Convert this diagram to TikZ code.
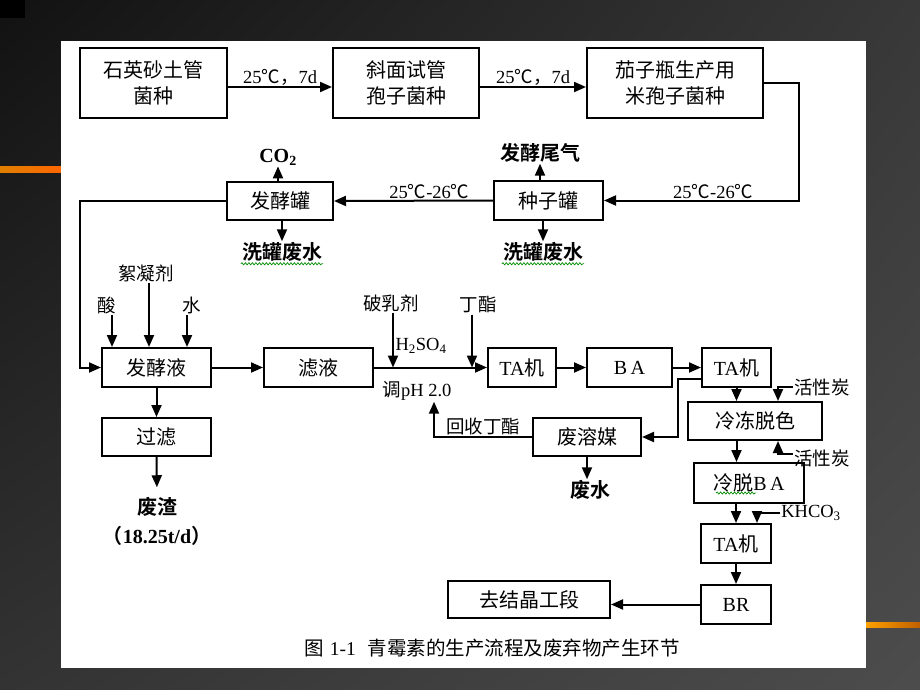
\documentclass[tikz,border=0pt]{standalone}
\usepackage{fontspec}
\setmainfont{Liberation Serif}
\newfontfamily\cjk{Noto Sans CJK SC}[BoldFont={Noto Sans CJK SC Bold}]
\usetikzlibrary{arrows.meta,positioning,decorations.pathmorphing,shadings}

\begin{document}
\begin{tikzpicture}[x=1pt,y=-1pt,
      box_node/.style={
         draw=black,
         line width=2pt,
         rectangle,
         inner sep=0pt,
         align=center,
         font=\cjk\fontsize{20}{26}\selectfont},
      text_node/.style={
         inner sep=1pt,
         font=\cjk\fontsize{18.5}{20}\selectfont},
      waste_node/.style={
         inner sep=1pt,
         font=\cjk\bfseries\fontsize{20}{24}\selectfont},
      arrow_black/.style={
         line width=2pt,
         -{Triangle[length=12pt,width=10pt]}},
      squiggle/.style={
         draw=green!55!black,
         line width=0.7pt,
         decorate,
         decoration={snake, amplitude=1.1pt, segment length=3.5pt}},
]
      % slide background
      \useasboundingbox (0,0) rectangle (920,690);
      \shade[upper left=black!93, upper right=black!78, lower left=black!80, lower right=black!70]
         (0,0) rectangle (920,690);
      \fill[black] (0,0) rectangle (25,18);
      \shade[left color=orange!75!olive, middle color=olive!75!yellow, right color=orange!80!red]
         (0,166) rectangle (61,172);
      \shade[left color=orange!75!yellow, middle color=red!60!orange, right color=orange!75!black]
         (866,622) rectangle (920,627);
      \fill[white] (61,41) rectangle (866,668);

      % spore stage
      \node[box_node, minimum width=147pt, minimum height=70pt] (sysg) at (153.5,83) {石英砂土管\\菌种};
      \node[box_node, minimum width=146pt, minimum height=70pt] (xmsg) at (406,83) {斜面试管\\孢子菌种};
      \node[box_node, minimum width=176pt, minimum height=70pt] (qzp) at (675,83) {茄子瓶生产用\\米孢子菌种};

      % tanks
      \node[box_node, minimum width=109pt, minimum height=39pt] (zzg) at (548.5,200.5) {种子罐};
      \node[box_node, minimum width=106pt, minimum height=38pt] (fjg) at (280,201) {发酵罐};

      \node[waste_node] (fjwq) at (540,153) {发酵尾气};
      \node[waste_node] (xgfs2) at (543,252) {洗罐废水};
      \node[waste_node] (co2) at (278,157) {\rmfamily CO\textsubscript{2}};
      \node[waste_node] (xgfs1) at (282,252) {洗罐废水};

      % broth and extraction
      \node[box_node, minimum width=109pt, minimum height=39pt] (fjy) at (156.5,367.5) {发酵液};
      \node[box_node, minimum width=109pt, minimum height=39pt] (ly) at (318.5,367.5) {滤液};
      \node[box_node, minimum width=109pt, minimum height=38pt] (gl) at (156.5,437) {过滤};
      \node[box_node, minimum width=68pt, minimum height=39pt] (ta1) at (522,367.5) {\rmfamily TA\cjk 机};
      \node[box_node, minimum width=85pt, minimum height=39pt] (ba) at (629.5,367.5) {\rmfamily B\,A};
      \node[box_node, minimum width=69pt, minimum height=39pt] (ta2) at (736.5,367.5) {\rmfamily TA\cjk 机};
      \node[box_node, minimum width=108pt, minimum height=38pt] (frm) at (587,437) {废溶媒};
      \node[box_node, minimum width=134pt, minimum height=38pt] (ldts) at (755,421) {冷冻脱色};
      \node[box_node, minimum width=110pt, minimum height=40pt] (ltba) at (749,483) {冷脱\rmfamily B\,A};
      \node[box_node, minimum width=70pt, minimum height=39pt] (ta3) at (736,543.5) {\rmfamily TA\cjk 机};
      \node[box_node, minimum width=70pt, minimum height=39pt] (br) at (736,604.5) {\rmfamily BR};
      \node[box_node, minimum width=162pt, minimum height=37pt] (jjgd) at (529,599.5) {去结晶工段};

      % side inputs and outputs
      \node[text_node] (xnj) at (146,273) {絮凝剂};
      \node[text_node] (suan) at (107,305) {酸};
      \node[text_node] (shui) at (192,305) {水};
      \node[text_node] (prj) at (391,303) {破乳剂};
      \node[text_node] (dz) at (478,305) {丁酯};
      \node[text_node] (h2so4) at (421,346) {\rmfamily H\textsubscript{2}SO\textsubscript{4}};
      \node[text_node] (tph) at (417,391) {调\rmfamily pH 2.0};
      \node[text_node] (hxt1) at (822,387) {活性炭};
      \node[text_node] (hxt2) at (822,458) {活性炭};
      \node[text_node] (khco3) at (811,513) {\rmfamily KHCO\textsubscript{3}};
      \node[waste_node] (fz) at (157,507) {废渣};
      \node[waste_node] (fzl) at (157,536) {（\rmfamily 18.25t/d\cjk ）};
      \node[waste_node] (fs) at (590,490) {废水};

      \node[font=\cjk\fontsize{19.5}{21}\selectfont] (cap) at (492,648)
         {图\hspace{6pt}\rmfamily 1-1\hspace{12pt}\cjk 青霉素的生产流程及废弃物产生环节};

      % main line
      \foreach \i/\j in {sysg/xmsg, xmsg/qzp}
      \draw [arrow_black] ([yshift=-4pt]\i.east) --
         node[text_node,above] {\rmfamily 25\cjk ℃，\rmfamily 7d} ([yshift=-4pt]\j.west);

      \draw [arrow_black] (qzp.east) -- ++(35,0) |-
         node[text_node,above,pos=0.72] {\rmfamily 25\cjk ℃\rmfamily -26\cjk ℃} (zzg.east);
      \draw [arrow_black] (zzg.west) --
         node[text_node,above,pos=0.4] {\rmfamily 25\cjk ℃\rmfamily -26\cjk ℃} (fjg.east);
      \draw [arrow_black] (fjg.west) -- ++(-146,0) |- (fjy.west);

      \foreach \i/\j in {fjy/ly, ly/ta1, ta1/ba, ba/ta2, fjy/gl, ta3/br}
      \draw [arrow_black] (\i) -- (\j);
      \draw [arrow_black] (br.west) -- (br.west -| jjgd.east);

      % tank gases and water
      \draw [arrow_black] (zzg.north -| fjwq) -- (fjwq.south);
      \draw [arrow_black] (zzg.south -| xgfs2) -- (xgfs2.north);
      \draw [arrow_black] (fjg.north -| co2) -- (co2.south);
      \draw [arrow_black] (fjg.south -| xgfs1) -- (xgfs1.north);

      % additions
      \foreach \n/\dx in {suan/5, xnj/3, shui/-5}
      \draw [arrow_black] ([xshift=\dx pt]\n.south) -- ([xshift=\dx pt]\n.south |- fjy.north);
      \draw [arrow_black] ([xshift=2pt]prj.south) -- ([xshift=2pt]prj.south |- ly.east);
      \draw [arrow_black] ([xshift=-6pt]dz.south) -- ([xshift=-6pt]dz.south |- ly.east);

      \draw [arrow_black, shorten >=9pt] (gl.south) -- (fz.north);
      \draw [arrow_black] (frm.south) -- (frm.south |- fs.north);

      % solvent recovery
      \draw [arrow_black] ([yshift=-11pt]ta2.west) -- ++(-23,0) |- (frm.east);
      \draw [arrow_black] (frm.west) -|
         node[text_node,above,pos=0.25] {回收丁酯} ([xshift=17pt]tph.south);

      % decolouring and crystallisation
      \draw [arrow_black] (ta2.south) -- (ta2.south |- ldts.north);
      \draw [arrow_black] (ldts.south -| ta2.south) -- (ltba.north -| ta2.south);
      \draw [arrow_black] (ltba.south -| ta3.north) -- (ta3.north);
      \draw [arrow_black] (hxt1.west) -| ([xshift=23pt]ldts.north);
      \draw [arrow_black] ([yshift=4pt]hxt2.west) -| ([xshift=23pt]ldts.south);
      \draw [arrow_black] (khco3.west) -| ([xshift=21pt]ta3.north);

      % spell-check marks
      \draw [squiggle] ([yshift=-1pt]xgfs1.south west) -- ([yshift=-1pt]xgfs1.south east);
      \draw [squiggle] ([yshift=-1pt]xgfs2.south west) -- ([yshift=-1pt]xgfs2.south east);
      \draw [squiggle] ([xshift=-33pt,yshift=-10pt]ltba.center) -- ++(40,0);

\end{tikzpicture}
\end{document}
